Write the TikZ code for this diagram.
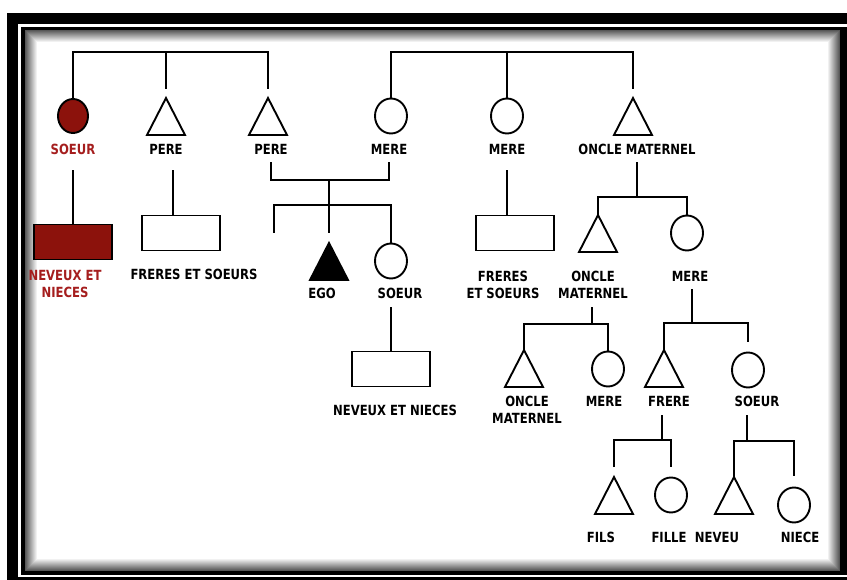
\documentclass[tikz,border=0pt]{standalone}
\usepackage{fontspec}
\usepackage{tikz}
\usetikzlibrary{shapes.geometric}
\newfontfamily\kinfont{DejaVu Sans}[FakeStretch=0.83]
\definecolor{KinRed}{RGB}{140,18,12}
\definecolor{KinRedText}{RGB}{165,30,30}
\tikzset{
  link/.style={draw=black,line width=1.9pt},
  circ/.style={ellipse,draw=black,line width=1.9pt,fill=white,inner sep=0pt,minimum width=32pt,minimum height=35pt},
  famrect/.style={rectangle,draw=black,line width=1.9pt,fill=white,inner sep=0pt,minimum width=78pt,minimum height=35pt},
  tri/.style={rectangle,inner sep=0pt,outer sep=0pt,minimum width=38pt,minimum height=37pt,
    append after command={\pgfextra{\draw[line width=1.9pt,fill=#1] (\tikzlastnode.south west) -- (\tikzlastnode.north) -- (\tikzlastnode.south east) -- cycle;}}},
  tri/.default=white,
}
\tikzset{lab/.style={font=\kinfont\bfseries\fontsize{14}{17}\selectfont,inner sep=0pt,align=center}}

\begin{document}
\begin{tikzpicture}[x=1pt,y=-1pt]
\useasboundingbox (0,0) rectangle (847,580);
% frame with inner shadow
\fill[black] (7,13) rectangle (847,580);
\fill[white] (18,24) rectangle (847,577);
\fill[black] (21,27) rectangle (847,575);
\fill[white] (25,30) rectangle (840,571);
\foreach \i in {0,...,11}{
  \pgfmathsetmacro\sh{66-5.5*\i}
  \draw[black!\sh,line width=1pt] (25.5+\i,30.5+\i) rectangle (839.5-\i,570.5-\i);
}

% generation of the parents
\node[circ,fill=KinRed,minimum width=30pt,minimum height=34pt] (sA) at (73,116) {};
\node[tri,anchor=north] (pA) at (166,98) {};
\node[tri,anchor=north] (pB) at (268,98) {};
\node[circ] (mA) at (391,116) {};
\node[circ] (mB) at (507,116) {};
\node[tri,anchor=north] (oA) at (633,98) {};
\node[lab,text=KinRedText] (lsA) at (73,149) {SOEUR};
\node[lab] (lpA) at (166,149) {PERE};
\node[lab] (lpB) at (271,149) {PERE};
\node[lab] (lmA) at (389,149) {MERE};
\node[lab] (lmB) at (507,149) {MERE};
\node[lab] (loA) at (637,149) {ONCLE MATERNEL};

% generation of ego
\node[famrect,fill=KinRed] (nA) at (73,242) {};
\node[famrect] (fA) at (181,233) {};
\node[tri=black,anchor=north] (ego) at (329,243) {};
\node[circ] (sB) at (391,261) {};
\node[famrect] (fB) at (515,233) {};
\node[tri,anchor=north] (oB) at (598,215) {};
\node[circ] (mC) at (687,233) {};
\node[lab,text=KinRedText] (lnA) at (65,284) {NEVEUX ET\\NIECES};
\node[lab] (lfA) at (194,274) {FRERES ET SOEURS};
\node[lab] (lego) at (322,293) {EGO};
\node[lab] (lsB) at (400,293) {SOEUR};
\node[lab] (lfB) at (503,284.5) {FRERES\\ET SOEURS};
\node[lab] (loB) at (593,284.5) {ONCLE\\MATERNEL};
\node[lab] (lmC) at (690,276) {MERE};

% generation of the children
\node[famrect] (nB) at (391,369) {};
\node[tri,anchor=north] (oC) at (524,350) {};
\node[circ] (mD) at (608,369) {};
\node[tri,anchor=north] (frA) at (664,350) {};
\node[circ] (sC) at (748,370) {};
\node[lab] (lnB) at (395,410) {NEVEUX ET NIECES};
\node[lab] (loC) at (527,410) {ONCLE\\MATERNEL};
\node[lab] (lmD) at (604,401) {MERE};
\node[lab] (lfrA) at (669,401) {FRERE};
\node[lab] (lsC) at (757,401) {SOEUR};

% last generation
\node[tri,anchor=north] (fils) at (614,477) {};
\node[circ] (fille) at (671,495) {};
\node[tri,anchor=north] (neveu) at (734,477) {};
\node[circ] (niece) at (794,505) {};
\node[lab] (lfils) at (601,537) {FILS};
\node[lab] (lfille) at (669,537) {FILLE};
\node[lab] (lneveu) at (717,537) {NEVEU};
\node[lab] (lniece) at (800,537) {NIECE};

% junctions
\coordinate (jT1) at (166,52);
\coordinate (jT2) at (507,52);
\coordinate (fAtop) at (173,215);
\coordinate (mar) at (329,180);
\coordinate (sib) at (329,205);
\coordinate (sibL) at (274,233);
\coordinate (jA) at (637,197);
\coordinate (jB) at (592,324);
\coordinate (jC) at (692,323);
\coordinate (jD) at (662,440);
\coordinate (jE) at (747,441);

% lines
\draw[link,shorten >=9pt] (sA.north) |- (jT1) -| (pB.north);
\draw[link,shorten >=9pt] (jT1) -- (pA.north);
\draw[link,shorten >=9pt] (mA.north) |- (jT2) -| (oA.north);
\draw[link] (jT2) -- (mB.north);
\draw[link,shorten <=16pt] (lsA.south) -- (nA.north);
\draw[link,shorten <=16pt] (lpA.south -| fAtop) -- (fAtop);
\draw[link,shorten <=8pt,shorten >=8pt] (lpB.south) |- (mar) -| (lmA.south);
\draw[link] (mar) -- (sib);
\draw[link] (sibL) |- (sib) -| (sB.north);
\draw[link,shorten >=10pt] (sib) -- (ego.north);
\draw[link,shorten <=9pt] (lsB.south -| nB.north) -- (nB.north);
\draw[link,shorten <=16pt] (lmB.south) -- (lmB.south |- fB.north);
\draw[link,shorten <=8pt] (loA.south) -- (jA);
\draw[link] (oB.north) |- (jA) -| (mC.north);
\draw[link,shorten <=9pt] (loB.south -| jB) -- (jB);
\draw[link] (oC.north) |- (jB) -| (mD.north);
\draw[link,shorten <=8pt] (lmC.south -| jC) -- (jC);
\draw[link,shorten >=10pt] (frA.north) |- (jC) -| (sC.north);
\draw[link,shorten <=9pt] (lfrA.south -| jD) -- (jD);
\draw[link,shorten <=10pt,shorten >=10pt] (fils.north) |- (jD) -| (fille.north);
\draw[link,shorten <=9pt] (lsC.south -| jE) -- (jE);
\draw[link,shorten >=11pt] (neveu.north) |- (jE) -| (niece.north);
\end{tikzpicture}
\end{document}
